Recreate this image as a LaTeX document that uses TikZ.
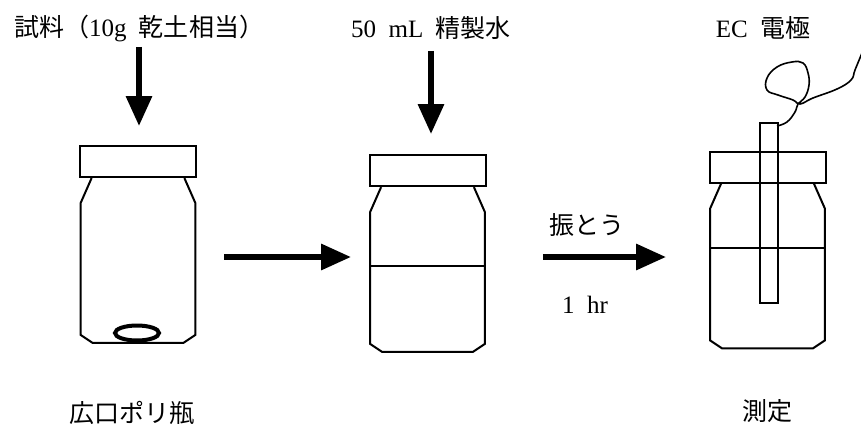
\documentclass[tikz,border=0pt]{standalone}
\usepackage{fontspec}
\setmainfont{Liberation Serif}
\newfontfamily\jp{Noto Sans CJK JP}
\usepackage{tikz}
\usetikzlibrary{positioning,calc,shapes.geometric,arrows.meta}

\begin{document}
\begin{tikzpicture}[x=0.5pt, y=-0.5pt,
    >={Triangle[length=15pt,width=12.5pt]},
    every node/.style={font=\fontsize{12.5}{15}\selectfont, inner sep=0pt},
    jarbody/.style={rectangle, minimum width=57pt, minimum height=82pt},
    jarcap/.style={rectangle, draw, line width=1pt, minimum width=58pt, minimum height=15.5pt},
    outline/.style={line width=1pt},
    feed/.style={->, line width=3pt}]
    \useasboundingbox (0,0) rectangle (861,428);

    % Jar bodies - left, middle, right
    \node [jarbody] (jar1) at (138,260.5) {};
    \node [jarbody] (jar2) at (427.5,269.5) {};
    \node [jarbody] (jar3) at (767.5,266) {};

    % Caps on top of each jar
    \node [jarcap, above=0pt of jar1] (cap1) {};
    \node [jarcap, above=0pt of jar2] (cap2) {};
    \node [jarcap, above=0pt of jar3] (cap3) {};

    % Jar outlines with shoulders and bevelled bottom
    \foreach \j in {jar1,jar2,jar3}
        \draw [outline] ($(\j.north west)+(11,0)$) -- ($(\j.north west)+(0,25)$)
            -- ($(\j.south west)+(0,-8)$) -- ($(\j.south west)+(12,0)$)
            -- ($(\j.south east)+(-12,0)$) -- ($(\j.south east)+(0,-8)$)
            -- ($(\j.north east)+(0,25)$) -- ($(\j.north east)+(-11,0)$);

    % Soil sample at the bottom of the first jar
    \node [draw, ellipse, line width=2pt, minimum width=22pt, minimum height=7.5pt] (soil) at (137,333) {};

    % Water level
    \draw [outline] ($(jar2.north west)+(0,79)$) -- ($(jar2.north east)+(0,79)$);
    \draw [outline] ($(jar3.north west)+(0,64)$) -- ($(jar3.north east)+(0,64)$);

    % EC probe and its cable
    \node [draw, line width=1pt, minimum width=9pt, minimum height=90pt] (probe) at (769,213) {};
    \draw [line width=0.8pt] plot [smooth, tension=0.7] coordinates {
        (777,126) (787,122) (795,112) (798,104) (805,97) (809,85) (808,73)
        (803,63) (792,62) (777,67) (767,78) (767,90) (778,95) (793,100)
        (800,104) (813,98) (837,89) (851,80) (855,70) (862,53)};

    % Labels
    \node (sample) at (139,28) {{\jp 試料（}10g\enspace{\jp 乾土相当）}};
    \node (water) at (431,28) {50\enspace mL\enspace{\jp 精製水}};
    \node (ec) at (763,28) {EC\enspace{\jp 電極}};
    \node (shake) at (587,225) {{\jp 振とう}};
    \node (time) at (585,305) {1\enspace hr};
    \node (bottle) at (132,413) {{\jp 広口ポリ瓶}};
    \node (measure) at (767,411) {{\jp 測定}};

    % Arrows
    \draw [feed, shorten <=2.5pt, shorten >=9.5pt] (sample.south) -- (sample.south |- cap1.north);
    \draw [feed, shorten <=5.5pt, shorten >=10pt] (water.south) -- (water.south |- cap2.north);
    \draw [feed, shorten <=14.5pt, shorten >=9.5pt] ([yshift=1.75pt]jar1.east) -- ([yshift=1.75pt]jar1.east -| jar2.west);
    \draw [feed, shorten <=29pt, shorten >=22pt] ([yshift=6.25pt]jar2.east) -- ([yshift=6.25pt]jar2.east -| jar3.west);

\end{tikzpicture}
\end{document}
